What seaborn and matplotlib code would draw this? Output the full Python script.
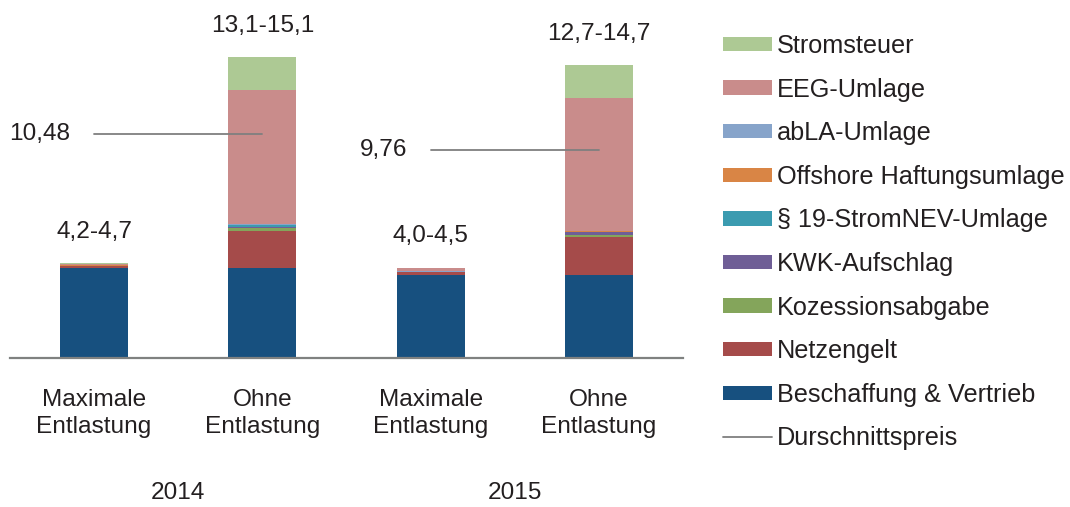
import seaborn as sns
import matplotlib.pyplot as plt
from matplotlib.patches import Patch
from matplotlib.lines import Line2D
from matplotlib.transforms import blended_transform_factory

# data (ct/kWh)
bar_ids = ["max14", "ohne14", "max15", "ohne15"]
tick_labels = ["Maximale\nEntlastung", "Ohne\nEntlastung", "Maximale\nEntlastung", "Ohne\nEntlastung"]
years = ["2014", "2015"]
range_labels = ["4,2-4,7", "13,1-15,1", "4,0-4,5", "12,7-14,7"]
avg_price = [10.48, 9.76]
avg_labels = ["10,48", "9,76"]

beschaffung = [4.22, 4.22, 3.89, 3.89]
netzentgelt = [0.08, 1.75, 0.12, 1.78]
konzession = [0.01, 0.12, 0.01, 0.10]
kwk = [0.01, 0.06, 0.01, 0.11]
stromnev = [0.01, 0.06, 0.01, 0.03]
offshore = [0.01, 0.04, 0.01, 0.03]
abla = [0.01, 0.01, 0.01, 0.01]
eeg = [0.07, 6.29, 0.17, 6.22]
stromsteuer = [0.01, 1.54, 0.0, 1.54]

# bottom to top
layers = [
    ("Beschaffung & Vertrieb", beschaffung, "#17507f"),
    ("Netzengelt", netzentgelt, "#a54b4a"),
    ("Kozessionsabgabe", konzession, "#84a55b"),
    ("KWK-Aufschlag", kwk, "#6f5e96"),
    ("§ 19-StromNEV-Umlage", stromnev, "#3b9bb0"),
    ("Offshore Haftungsumlage", offshore, "#d98545"),
    ("abLA-Umlage", abla, "#87a4ca"),
    ("EEG-Umlage", eeg, "#c98c8b"),
    ("Stromsteuer", stromsteuer, "#adc994"),
]

sns.set_theme(style="white")
plt.rcParams["font.family"] = ["Liberation Sans", "DejaVu Sans"]
txt_col = "#231f20"
fs = 17.6
fs_leg = 18.2

fig = plt.figure(figsize=(10.7, 5.07), dpi=100)
ax = fig.add_axes([10 / 1070, 149 / 507, 673 / 1070, 341.6 / 507])

# cumulative sums, drawn from the top layer down so that lower ones cover
cums = []
running = [0.0] * len(bar_ids)
for name, vals, col in layers:
    running = [r + v for r, v in zip(running, vals)]
    cums.append(running)
for (name, vals, col), cum in reversed(list(zip(layers, cums))):
    sns.barplot(x=bar_ids, y=cum, order=bar_ids, color=col, width=0.405,
                saturation=1, linewidth=0, ax=ax)

totals = cums[-1]
for i, lab in enumerate(range_labels):
    ax.annotate(lab, (i, totals[i]), xytext=(0, 22.5), textcoords="offset points",
                ha="center", va="center", fontsize=fs, color=txt_col)

for k, (val, lab) in enumerate(zip(avg_price, avg_labels)):
    x0, x1 = 2 * k, 2 * k + 1
    ax.plot([x0, x1], [val, val], color="#7f7f7f", lw=1.3, zorder=5)
    ax.text(x0 - 0.14, val, lab, ha="right", va="center", fontsize=fs, color=txt_col)

ax.set_xlim(-0.5, 3.5)
ax.set_ylim(0, 16)
ax.set_yticks([])
ax.set_xticks(range(len(bar_ids)))
ax.set_xticklabels(tick_labels, fontsize=fs, color=txt_col, linespacing=1.33)
ax.tick_params(axis="x", length=0, pad=22)
ax.set_xlabel("")
ax.set_ylabel("")
for s in ["top", "left", "right"]:
    ax.spines[s].set_visible(False)
ax.spines["bottom"].set_color("#7f8180")
ax.spines["bottom"].set_linewidth(1.6)

trans = blended_transform_factory(ax.transData, fig.transFigure)
for k, y in enumerate(years):
    ax.text(2 * k + 0.5, 1 - 493 / 507, y, transform=trans, ha="center", va="center",
            fontsize=fs, color=txt_col)

handles = [Patch(facecolor=col, edgecolor="none", label=name) for name, vals, col in reversed(layers)]
handles.append(Line2D([0], [0], color="#7f7f7f", lw=1.3, label="Durschnittspreis"))
fig.legend(handles=handles, loc="upper left", bbox_to_anchor=(723 / 1070, 1 - 34 / 507),
           frameon=False, fontsize=fs_leg, handlelength=1.94, handleheight=0.5,
           handletextpad=0.2, labelspacing=0.775, borderpad=0, borderaxespad=0,
           labelcolor=txt_col)

fig.savefig("out.png", dpi=100)
